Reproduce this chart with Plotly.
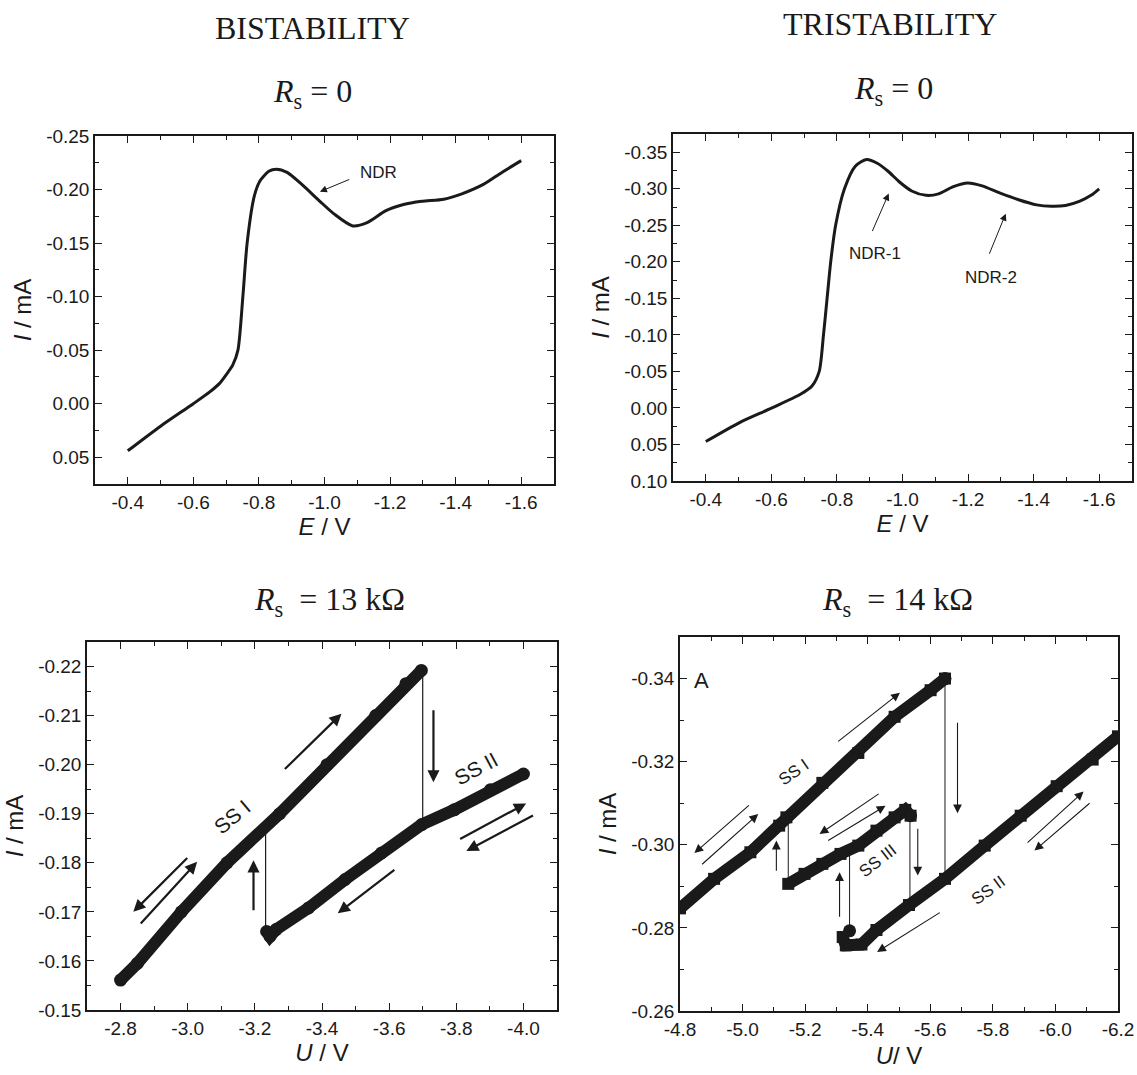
import plotly.graph_objects as go

W, H = 1137, 1075

# ---------------- data: panel 1 (bistability, Rs = 0) ----------------
E1 = [-0.400, -0.500, -0.600, -0.650, -0.680, -0.700, -0.720, -0.736, -0.751, -0.764,
      -0.786, -0.803, -0.830, -0.853, -0.886, -0.930, -0.986, -1.030, -1.086, -1.130,
      -1.186, -1.241, -1.297, -1.364, -1.419, -1.486, -1.541, -1.600]
I1 = [0.044, 0.021, 0.000, -0.011, -0.019, -0.027, -0.036, -0.050, -0.100, -0.150,
      -0.194, -0.208, -0.217, -0.219, -0.216, -0.205, -0.189, -0.177, -0.166, -0.169,
      -0.180, -0.186, -0.189, -0.191, -0.196, -0.205, -0.216, -0.227]

# ---------------- data: panel 2 (tristability, Rs = 0) ----------------
E2 = [-0.400, -0.503, -0.602, -0.690, -0.724, -0.746, -0.759, -0.770, -0.781, -0.796,
      -0.823, -0.856, -0.890, -0.923, -0.956, -0.989, -1.028, -1.072, -1.110, -1.155,
      -1.199, -1.243, -1.298, -1.354, -1.409, -1.453, -1.497, -1.541, -1.575, -1.600]
I2 = [0.046, 0.020, 0.000, -0.019, -0.030, -0.050, -0.100, -0.150, -0.200, -0.250,
      -0.300, -0.331, -0.340, -0.335, -0.324, -0.310, -0.297, -0.291, -0.293, -0.303,
      -0.308, -0.304, -0.294, -0.285, -0.278, -0.276, -0.277, -0.283, -0.291, -0.300]

# ---------------- data: panel 3 (Rs = 13 kOhm) ----------------
U3_SS1 = [-2.800, -2.850, -2.981, -3.117, -3.274, -3.415, -3.560, -3.650, -3.696]
I3_SS1 = [-0.1561, -0.1595, -0.1700, -0.1800, -0.1900, -0.2000, -0.2100, -0.2165, -0.2192]
U3_SS2 = [-3.235, -3.245, -3.263, -3.360, -3.469, -3.577, -3.697, -3.794, -3.902, -4.000]
I3_SS2 = [-0.1660, -0.1650, -0.1664, -0.1708, -0.1766, -0.1820, -0.1878, -0.1908, -0.1949, -0.1981]
U3_JUMP_DOWN = [-3.700, -3.700]
I3_JUMP_DOWN = [-0.2192, -0.1885]
U3_JUMP_UP = [-3.232, -3.232]
I3_JUMP_UP = [-0.1670, -0.1868]

# ---------------- data: panel 4 (Rs = 14 kOhm) ----------------
U4_SS1 = [-4.800, -4.909, -5.025, -5.117, -5.140, -5.255, -5.370, -5.486, -5.601, -5.647]
I4_SS1 = [-0.2847, -0.2918, -0.2982, -0.3046, -0.3066, -0.3149, -0.3221, -0.3308, -0.3372, -0.3400]
U4_SS2 = [-5.320, -5.330, -5.380, -5.428, -5.532, -5.647, -5.774, -5.889, -6.004, -6.119, -6.200]
I4_SS2 = [-0.2778, -0.2758, -0.2760, -0.2795, -0.2855, -0.2918, -0.2998, -0.3070, -0.3141, -0.3205, -0.3261]
U4_SS3 = [-5.146, -5.198, -5.255, -5.313, -5.370, -5.428, -5.486, -5.520, -5.537]
I4_SS3 = [-0.2906, -0.2930, -0.2954, -0.2978, -0.2998, -0.3034, -0.3066, -0.3084, -0.3070]
U4_ENDS = [-5.647, -5.537, -5.342]
I4_ENDS = [-0.3400, -0.3070, -0.2793]
U4_JUMPS = [[-5.647, -5.647], [-5.535, -5.535], [-5.342, -5.342], [-5.146, -5.146]]
I4_JUMPS = [[-0.3400, -0.2918], [-0.3062, -0.2860], [-0.2793, -0.2985], [-0.2906, -0.3070]]

# arrows (tail -> head) in data units
P3_ARROWS = [(-3.285, -0.1988, -3.458, -0.2104), (-3.003, -0.1813, -2.838, -0.1700),
             (-2.856, -0.1673, -3.028, -0.1802), (-3.196, -0.1700, -3.196, -0.1805),
             (-3.732, -0.2114, -3.732, -0.1964), (-3.620, -0.1788, -3.447, -0.1697),
             (-3.807, -0.1847, -4.008, -0.1921), (-4.033, -0.1898, -3.830, -0.1824)]
P4_ARROWS = [(-5.301, -0.3246, -5.503, -0.3366), (-5.025, -0.3098, -4.846, -0.2980),
             (-4.866, -0.2950, -5.050, -0.3074), (-5.108, -0.2934, -5.108, -0.3010),
             (-5.440, -0.3125, -5.246, -0.3026), (-5.269, -0.3008, -5.457, -0.3094),
             (-5.687, -0.3297, -5.687, -0.3076), (-5.560, -0.3042, -5.560, -0.2926),
             (-5.310, -0.2823, -5.310, -0.2934), (-5.635, -0.2839, -5.430, -0.2742),
             (-5.906, -0.3002, -6.090, -0.3128), (-6.114, -0.3103, -5.933, -0.2986)]

# tick values
X12_TICKS = [-0.4, -0.6, -0.8, -1.0, -1.2, -1.4, -1.6]
Y1_TICKS = [-0.25, -0.20, -0.15, -0.10, -0.05, 0.00, 0.05]
Y2_TICKS = [-0.35, -0.30, -0.25, -0.20, -0.15, -0.10, -0.05, 0.00, 0.05, 0.10]
X3_TICKS = [-2.8, -3.0, -3.2, -3.4, -3.6, -3.8, -4.0]
Y3_TICKS = [-0.22, -0.21, -0.20, -0.19, -0.18, -0.17, -0.16, -0.15]
X4_TICKS = [-4.8, -5.0, -5.2, -5.4, -5.6, -5.8, -6.0, -6.2]
Y4_TICKS = [-0.34, -0.32, -0.30, -0.28, -0.26]


def fmt(vals, nd):
    out = []
    for v in vals:
        s = f"{v:.{nd}f}"
        if s.startswith("-") and float(s) == 0:
            s = s[1:]
        out.append(s)
    return out


INK = "#1a1a1a"
SANS = "Liberation Sans, Arial, Helvetica, sans-serif"
SERIF = "Liberation Serif, Times New Roman, serif"

fig = go.Figure()

fig.add_trace(go.Scatter(x=E1, y=I1, mode="lines", line=dict(color=INK, width=3, shape="spline", smoothing=0.7),
                         xaxis="x", yaxis="y"))
fig.add_trace(go.Scatter(x=E2, y=I2, mode="lines", line=dict(color=INK, width=3, shape="spline", smoothing=0.7),
                         xaxis="x2", yaxis="y2"))

# panel 3
for ux, iy in [(U3_JUMP_DOWN, I3_JUMP_DOWN), (U3_JUMP_UP, I3_JUMP_UP)]:
    fig.add_trace(go.Scatter(x=ux, y=iy, mode="lines", line=dict(color=INK, width=1.2),
                             xaxis="x3", yaxis="y3"))
for ux, iy in [(U3_SS1, I3_SS1), (U3_SS2, I3_SS2)]:
    fig.add_trace(go.Scatter(x=ux, y=iy, mode="lines+markers", line=dict(color=INK, width=12),
                             marker=dict(symbol="circle", size=13, color=INK),
                             xaxis="x3", yaxis="y3"))

# panel 4
for ux, iy in zip(U4_JUMPS, I4_JUMPS):
    fig.add_trace(go.Scatter(x=ux, y=iy, mode="lines", line=dict(color=INK, width=1),
                             xaxis="x4", yaxis="y4"))
for ux, iy in [(U4_SS1, I4_SS1), (U4_SS2, I4_SS2), (U4_SS3, I4_SS3)]:
    fig.add_trace(go.Scatter(x=ux, y=iy, mode="lines+markers", line=dict(color=INK, width=12),
                             marker=dict(symbol="square", size=12, color=INK),
                             xaxis="x4", yaxis="y4"))
fig.add_trace(go.Scatter(x=U4_ENDS, y=I4_ENDS, mode="markers",
                         marker=dict(symbol="circle", size=13, color=INK),
                         xaxis="x4", yaxis="y4"))


def axis(domain, rng, ticks, nd, minor_dtick, title, anchor, standoff):
    return dict(
        domain=domain, range=rng, anchor=anchor, automargin=False,
        tickmode="array", tickvals=ticks, ticktext=fmt(ticks, nd),
        ticks="inside", ticklen=7, tickwidth=1.3, tickcolor=INK,
        showline=True, linecolor=INK, linewidth=1.5, mirror="allticks",
        showgrid=False, zeroline=False,
        minor=dict(ticks="inside", ticklen=4, tickwidth=1.2, tickcolor=INK,
                   dtick=minor_dtick, tick0=0, showgrid=False),
        tickfont=dict(family=SANS, size=19, color=INK),
        title=dict(text=title, font=dict(family=SANS, size=24, color=INK), standoff=standoff),
    )


def px_dom(a, b, total, flip=False):
    if flip:
        return [1 - b / total, 1 - a / total]
    return [a / total, b / total]


fig.update_layout(
    width=W, height=H, margin=dict(l=0, r=0, t=0, b=0, autoexpand=False),
    paper_bgcolor="white", plot_bgcolor="white", showlegend=False,
    xaxis=axis(px_dom(95, 554, W), [-0.3, -1.7], X12_TICKS, 1, 0.1, "<i>E</i> / V", "y", 6),
    yaxis=axis(px_dom(136, 484, H, True), [0.075, -0.25], Y1_TICKS, 2, 0.025, "<i>I</i> / mA", "x", 8),
    xaxis2=axis(px_dom(673, 1132, W), [-0.3, -1.7], X12_TICKS, 1, 0.1, "<i>E</i> / V", "y2", 6),
    yaxis2=axis(px_dom(134, 481, H, True), [0.10, -0.375], Y2_TICKS, 2, 0.025, "<i>I</i> / mA", "x2", 8),
    xaxis3=axis(px_dom(87, 557, W), [-2.7, -4.1], X3_TICKS, 1, 0.1, "<i>U</i> / V", "y3", 5),
    yaxis3=axis(px_dom(642, 1010, H, True), [-0.15, -0.225], Y3_TICKS, 2, 0.005, "<i>I</i> / mA", "x3", 8),
    xaxis4=axis(px_dom(680, 1118, W), [-4.8, -6.2], X4_TICKS, 1, 0.1, "<i>U</i>/ V", "y4", 9),
    yaxis4=axis(px_dom(637, 1011, H, True), [-0.26, -0.35], Y4_TICKS, 2, 0.01, "<i>I</i> / mA", "x4", 8),
)

ann = []
# headings
for txt, x, y in [("BISTABILITY", 312, 28), ("TRISTABILITY", 890, 24),
                  ("<i>R</i><sub>s</sub> = 0", 312, 94), ("<i>R</i><sub>s</sub> = 0", 893, 91),
                  ("<i>R</i><sub>s</sub>  = 13 kΩ", 329, 601), ("<i>R</i><sub>s</sub>  = 14 kΩ", 897, 601)]:
    ann.append(dict(text=txt, x=x / W, y=1 - y / H, xref="paper", yref="paper",
                    xanchor="center", yanchor="middle", showarrow=False,
                    font=dict(family=SERIF, size=32, color=INK)))

# panel 1 / 2 labels
ann.append(dict(text="NDR", x=-1.164, y=-0.2156, xref="x", yref="y", showarrow=False,
                font=dict(family=SANS, size=17, color=INK)))
ann.append(dict(text="", x=-0.986, y=-0.198, ax=-1.08, ay=-0.210, xref="x", yref="y",
                axref="x", ayref="y", showarrow=True, arrowhead=2, arrowsize=1.4,
                arrowwidth=1, arrowcolor=INK))
ann.append(dict(text="NDR-1", x=-0.917, y=-0.212, xref="x2", yref="y2", showarrow=False,
                font=dict(family=SANS, size=17, color=INK)))
ann.append(dict(text="", x=-0.958, y=-0.2935, ax=-0.906, ay=-0.240, xref="x2", yref="y2",
                axref="x2", ayref="y2", showarrow=True, arrowhead=2, arrowsize=1.4,
                arrowwidth=1, arrowcolor=INK))
ann.append(dict(text="NDR-2", x=-1.271, y=-0.179, xref="x2", yref="y2", showarrow=False,
                font=dict(family=SANS, size=17, color=INK)))
ann.append(dict(text="", x=-1.315, y=-0.266, ax=-1.263, ay=-0.209, xref="x2", yref="y2",
                axref="x2", ayref="y2", showarrow=True, arrowhead=2, arrowsize=1.4,
                arrowwidth=1, arrowcolor=INK))

# panel 3
for tu, ti, hu, hi in P3_ARROWS:
    ann.append(dict(text="", x=hu, y=hi, ax=tu, ay=ti, xref="x3", yref="y3", axref="x3", ayref="y3",
                    showarrow=True, arrowhead=2, arrowsize=1.1, arrowwidth=2.2, arrowcolor=INK))
ann.append(dict(text="SS I", x=-3.133, y=-0.1895, xref="x3", yref="y3", showarrow=False, textangle=-40,
                font=dict(family=SANS, size=21, color=INK)))
ann.append(dict(text="SS II", x=-3.859, y=-0.1993, xref="x3", yref="y3", showarrow=False, textangle=-28,
                font=dict(family=SANS, size=21, color=INK)))

# panel 4
for tu, ti, hu, hi in P4_ARROWS:
    ann.append(dict(text="", x=hu, y=hi, ax=tu, ay=ti, xref="x4", yref="y4", axref="x4", ayref="y4",
                    showarrow=True, arrowhead=2, arrowsize=1.6, arrowwidth=1.1, arrowcolor=INK))
ann.append(dict(text="A", x=-4.869, y=-0.3396, xref="x4", yref="y4", showarrow=False,
                font=dict(family=SANS, size=22, color=INK)))
ann.append(dict(text="SS I", x=-5.163, y=-0.3173, xref="x4", yref="y4", showarrow=False, textangle=-35,
                font=dict(family=SANS, size=17, color=INK)))
ann.append(dict(text="SS III", x=-5.434, y=-0.2962, xref="x4", yref="y4", showarrow=False, textangle=-38,
                font=dict(family=SANS, size=17, color=INK)))
ann.append(dict(text="SS II", x=-5.785, y=-0.2890, xref="x4", yref="y4", showarrow=False, textangle=-36,
                font=dict(family=SANS, size=17, color=INK)))

fig.update_layout(annotations=ann)
fig.write_html("out.html", config={"displayModeBar": False},
               post_script="document.body.style.margin='0px';document.body.style.overflow='hidden';")
